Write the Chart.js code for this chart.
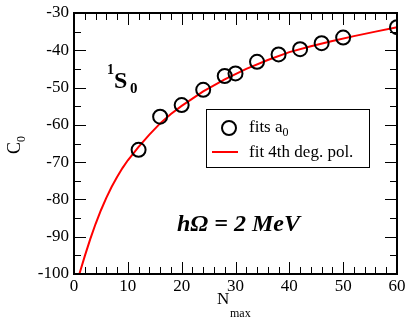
<!DOCTYPE html>
<html>
<head>
<meta charset="utf-8">
<script src="https://cdn.jsdelivr.net/npm/chart.js@4/dist/chart.umd.min.js"></script>
</head>
<body style="margin:0">
<canvas id="c0Chart" width="407" height="321"></canvas>
<script>
// fitted C0 values vs N_max (circles)
const nmax = [12, 16, 20, 24, 28, 30, 34, 38, 42, 46, 50, 60];
const c0 = [-66.7, -57.8, -54.7, -50.6, -46.9, -46.2, -43.1, -41.1, -39.7, -38.1, -36.6, -33.8];

// 4th degree polynomial fit
const fitN = [1, 2, 3, 4, 5, 6, 7, 8, 9, 10, 12, 14, 16, 18, 20, 24, 28, 32, 36, 40, 44, 48, 52, 56, 60];
const fitC = [-100, -95.2, -90.7, -86.6, -82.9, -79.6, -76.6, -74.0, -71.6, -69.5, -65.9, -62.6,
  -59.6, -57.1, -54.9, -51.0, -47.8, -45.0, -42.6, -40.5, -38.9, -37.5, -36.2, -35.0, -33.8];

// axis ticks
const xTicks = [0, 10, 20, 30, 40, 50, 60];
const yTicks = [-100, -90, -80, -70, -60, -50, -40, -30];

const SERIF = "Liberation Serif";

const framePlugin = {
  id: "frame",
  // red fit line through the points the library placed for dataset 0
  beforeDatasetsDraw(chart) {
    const g = chart.ctx;
    const pts = chart.getDatasetMeta(0).data;
    g.save();
    g.strokeStyle = "#ff0000";
    g.lineWidth = 2;
    g.beginPath();
    pts.forEach((p, i) => {
      if (i === 0) g.moveTo(p.x, p.y);
      else g.lineTo(p.x, p.y);
    });
    g.stroke();
    g.restore();
  },
  afterDraw(chart) {
    const g = chart.ctx;
    const a = chart.chartArea;
    const xs = chart.scales.x;
    const ys = chart.scales.y;
    g.save();

    // box round the plot
    g.strokeStyle = "#000";
    g.lineWidth = 2;
    g.strokeRect(Math.round(a.left), Math.round(a.top), Math.round(a.right - a.left), Math.round(a.bottom - a.top));

    // ticks pointing inward on all four sides
    g.lineWidth = 1;
    g.beginPath();
    for (let v = 0; v <= 60; v += 2) {
      const px = Math.round(xs.getPixelForValue(v)) + 0.5;
      const len = v % 10 === 0 ? 12 : 7;
      g.moveTo(px, a.bottom); g.lineTo(px, a.bottom - len);
      g.moveTo(px, a.top); g.lineTo(px, a.top + len);
    }
    for (let v = -100; v <= -30; v += 5) {
      const py = Math.round(ys.getPixelForValue(v)) + 0.5;
      const len = v % 10 === 0 ? 12 : 7;
      g.moveTo(a.left, py); g.lineTo(a.left + len, py);
      g.moveTo(a.right, py); g.lineTo(a.right - len, py);
    }
    g.stroke();

    g.fillStyle = "#000";
    g.textBaseline = "alphabetic";

    // x axis title N_max
    g.font = "17px " + SERIF;
    g.fillText("N", 217, 304);
    g.font = "12px " + SERIF;
    g.fillText("max", 230, 317);

    // y axis title C_0
    g.save();
    g.translate(20, 154);
    g.rotate(-Math.PI / 2);
    g.font = "18px " + SERIF;
    g.fillText("C", 0, 0);
    g.font = "12px " + SERIF;
    g.fillText("0", 12, 5);
    g.restore();

    // 1S0 label
    g.font = "bold 14px " + SERIF;
    g.fillText("1", 107, 74);
    g.font = "bold 24px " + SERIF;
    g.fillText("S", 114, 88);
    g.font = "bold 15px " + SERIF;
    g.fillText("0", 130, 93);

    // hOmega label
    g.font = "italic bold 24px " + SERIF;
    g.fillText("h\u03A9 = 2 MeV", 177, 231);

    // legend box
    g.strokeStyle = "#000";
    g.lineWidth = 1;
    g.strokeRect(206.5, 109.5, 163, 58);

    g.lineWidth = 2;
    g.beginPath();
    g.arc(229, 128, 7, 0, Math.PI * 2);
    g.stroke();

    g.strokeStyle = "#ff0000";
    g.beginPath();
    g.moveTo(212, 152);
    g.lineTo(238, 152);
    g.stroke();

    g.font = "17px " + SERIF;
    g.fillText("fits a", 249, 132);
    const w = g.measureText("fits a").width;
    g.font = "12px " + SERIF;
    g.fillText("0", 249 + w, 136);
    g.font = "17px " + SERIF;
    g.fillText("fit 4th deg. pol.", 249, 157);

    g.restore();
  }
};

new Chart(document.getElementById("c0Chart"), {
  type: "scatter",
  data: {
    datasets: [
      {
        label: "fit 4th deg. pol.",
        data: fitN.map((n, i) => ({ x: n, y: fitC[i] })),
        showLine: false,
        pointRadius: 0,
        pointHoverRadius: 0,
      },
      {
        label: "fits a0",
        data: nmax.map((n, i) => ({ x: n, y: c0[i] })),
        showLine: false,
        pointStyle: "circle",
        pointRadius: 7,
        pointBorderWidth: 2,
        pointBorderColor: "#000",
        pointBackgroundColor: "rgba(0,0,0,0)",
      },
    ],
  },
  options: {
    responsive: false,
    animation: false,
    layout: { padding: { left: 0, right: 10, top: 13, bottom: 0 } },
    plugins: {
      legend: { display: false },
      tooltip: { enabled: false },
    },
    scales: {
      x: {
        type: "linear",
        min: 0,
        max: 60,
        afterBuildTicks: (s) => { s.ticks = xTicks.map((v) => ({ value: v })); },
        afterFit: (s) => { s.height = 47; s.paddingRight = 0; s.paddingLeft = 0; },
        grid: { display: false, drawTicks: false },
        border: { display: false },
        ticks: { color: "#000", padding: 2, font: { family: SERIF, size: 17 } },
      },
      y: {
        type: "linear",
        min: -100,
        max: -30,
        afterBuildTicks: (s) => { s.ticks = yTicks.map((v) => ({ value: v })); },
        afterFit: (s) => { s.width = 74; s.paddingTop = 0; s.paddingBottom = 0; },
        grid: { display: false, drawTicks: false },
        border: { display: false },
        ticks: { color: "#000", padding: 5, font: { family: SERIF, size: 17 } },
      },
    },
  },
  plugins: [framePlugin],
});
</script>
</body>
</html>
